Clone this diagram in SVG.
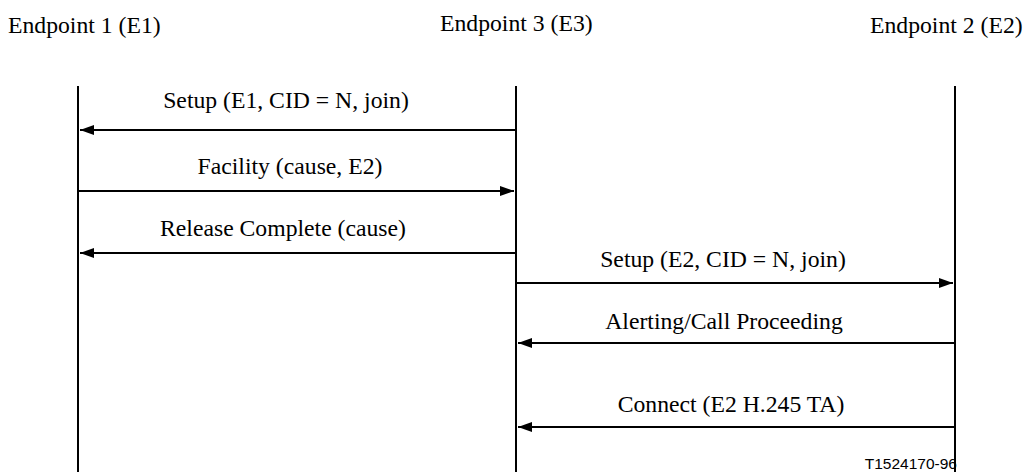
<svg xmlns="http://www.w3.org/2000/svg" width="1027" height="472" viewBox="0 0 1027 472">
<style>
.t{font-family:"Liberation Serif","Times New Roman",Times,"DejaVu Serif",serif;font-size:23.7px;fill:#000}
.lbl{text-anchor:middle}
.ll{stroke:#000;stroke-width:2;fill:none}
.msg{stroke:#000;stroke-width:2;fill:none;marker-end:url(#ah)}
.ref{font-family:"Liberation Sans",Arial,sans-serif;font-size:15.5px;fill:#000}
</style>
<defs>
<marker id="ah" viewBox="0 0 14 10" refX="14" refY="5" markerWidth="14" markerHeight="10" markerUnits="userSpaceOnUse" orient="auto">
<path d="M0,0 L14,5 L0,10 Z" fill="#000"/>
</marker>
</defs>
<rect width="1027" height="472" fill="#fff"/>
<g id="e1">
<text class="t" x="8" y="33">Endpoint 1 (E1)</text>
<line class="ll" x1="78" y1="86" x2="78" y2="472"/>
</g>
<g id="e3">
<text class="t" x="440" y="31">Endpoint 3 (E3)</text>
<line class="ll" x1="516" y1="86" x2="516" y2="472"/>
</g>
<g id="e2">
<text class="t" x="870" y="33">Endpoint 2 (E2)</text>
<line class="ll" x1="955" y1="86" x2="955" y2="472"/>
</g>
<g id="connectors">
<line class="msg" x1="516" y1="130" x2="80" y2="130"/>
<text class="t lbl" x="286" y="108">Setup (E1, CID = N, join)</text>
<line class="msg" x1="78" y1="191" x2="514" y2="191"/>
<text class="t lbl" x="290" y="174">Facility (cause, E2)</text>
<line class="msg" x1="516" y1="253" x2="80" y2="253"/>
<text class="t lbl" x="283" y="236">Release Complete (cause)</text>
<line class="msg" x1="516" y1="283" x2="953" y2="283"/>
<text class="t lbl" x="723" y="267">Setup (E2, CID = N, join)</text>
<line class="msg" x1="955" y1="343" x2="518" y2="343"/>
<text class="t lbl" x="724" y="329">Alerting/Call Proceeding</text>
<line class="msg" x1="955" y1="427" x2="518" y2="427"/>
<text class="t lbl" x="731" y="412">Connect (E2 H.245 TA)</text>
</g>
<text class="ref" x="957" y="469" text-anchor="end">T1524170-96</text>
</svg>
